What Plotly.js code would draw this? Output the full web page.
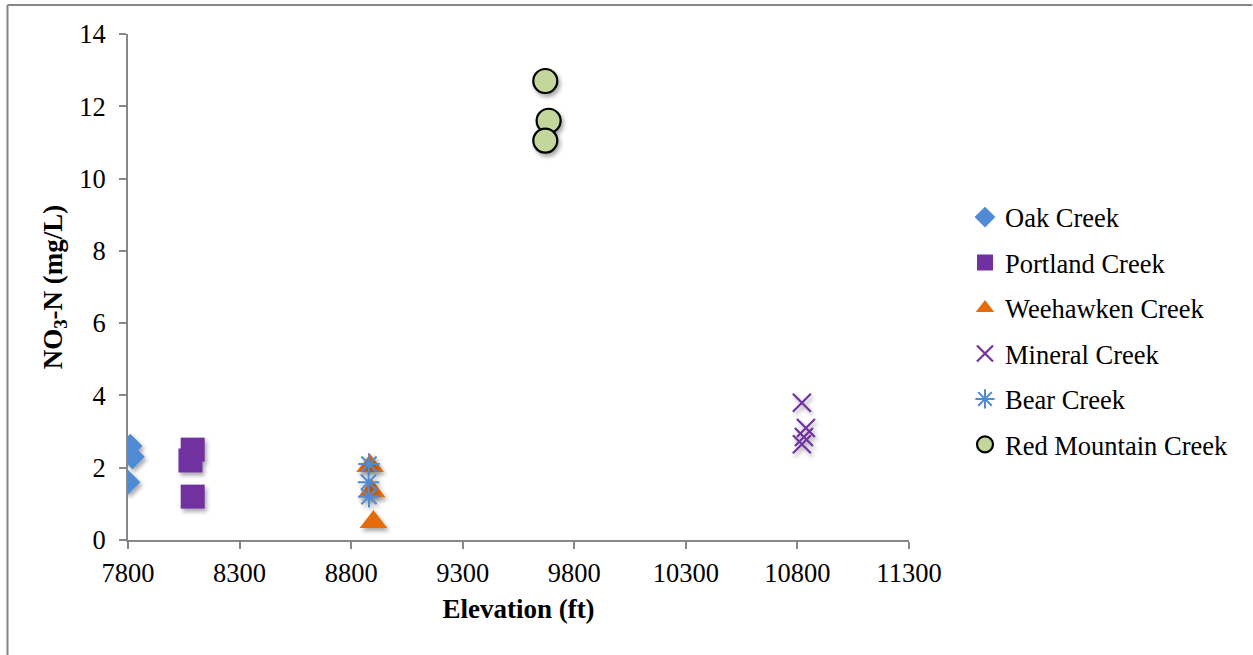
<!DOCTYPE html>
<html>
<head>
<meta charset="utf-8">
<script src="https://cdn.plot.ly/plotly-3.0.1.min.js"></script>
<style>
  html, body { margin: 0; padding: 0; background: #ffffff; }
  #chart { width: 1253px; height: 655px; }
</style>
</head>
<body>
<svg width="0" height="0" style="position:absolute">
  <defs>
    <filter id="mkshadow" x="-50%" y="-50%" width="200%" height="200%">
      <feGaussianBlur in="SourceAlpha" stdDeviation="2"/>
      <feOffset dx="2" dy="3" result="off"/>
      <feComponentTransfer><feFuncA type="linear" slope="0.35"/></feComponentTransfer>
      <feMerge><feMergeNode/><feMergeNode in="SourceGraphic"/></feMerge>
    </filter>
  </defs>
</svg>
<div id="chart"></div>
<script>
// Nitrate (NO3-N) by sampling elevation for each creek
const oakX = [7800, 7810, 7820];
const oakY = [1.6, 2.6, 2.3];

const portlandX = [8090, 8080, 8090];
const portlandY = [2.5, 2.2, 1.2];

const weehawkenX = [8885, 8892, 8900];
const weehawkenY = [2.05, 1.35, 0.5];

const mineralX = [10820, 10838, 10829, 10820];
const mineralY = [3.8, 3.1, 2.85, 2.65];

const bearX = [8880, 8878, 8880];
const bearY = [2.1, 1.6, 1.2];

const redMtnX = [9670, 9685, 9670];
const redMtnY = [12.7, 11.6, 11.05];

const xTicks = [7800, 8300, 8800, 9300, 9800, 10300, 10800, 11300];
const yTicks = [0, 2, 4, 6, 8, 10, 12, 14];

const FONT = 'Liberation Serif';

function series(name, xs, ys, marker) {
  return {
    type: 'scatter', mode: 'markers', name: name,
    x: xs, y: ys, legendgroup: name,
    marker: marker, hoverinfo: 'x+y+name'
  };
}

const traces = [
  series('Oak Creek', oakX, oakY,
    {symbol: 'diamond', size: 19, color: '#4F8AD4', line: {width: 0}}),
  series('Portland Creek', portlandX, portlandY,
    {symbol: 'square', size: 24, color: '#7030A0', line: {width: 0}}),
  series('Weehawken Creek', weehawkenX, weehawkenY,
    {symbol: 'triangle-up', size: 24, color: '#E46C0A', line: {width: 0}}),
  series('Mineral Creek', mineralX, mineralY,
    {symbol: 'x-thin-open', size: 18, color: '#7030A0', line: {width: 2.2, color: '#7030A0'}}),
  series('Bear Creek', bearX, bearY,
    {symbol: 'asterisk-open', size: 18, color: '#4F8AD4', line: {width: 2, color: '#4F8AD4'}}),
  series('Red Mountain Creek', redMtnX, redMtnY,
    {symbol: 'circle', size: 24, color: '#C3D69B', line: {width: 2.2, color: '#000000'}})
];

const layout = {
  width: 1253, height: 655,
  margin: {l: 128, r: 344, t: 34, b: 115, pad: 0},
  paper_bgcolor: '#ffffff', plot_bgcolor: '#ffffff',
  font: {family: FONT, size: 26, color: '#000000'},
  showlegend: true,
  legend: {
    x: 1.0717, xanchor: 'left', y: 0.685, yanchor: 'top',
    font: {family: FONT, size: 26.5, color: '#000000'},
    itemwidth: 30, tracegroupgap: 8,
    bgcolor: 'rgba(0,0,0,0)', borderwidth: 0
  },
  xaxis: {
    range: [7800, 11300], tickmode: 'array', tickvals: xTicks,
    ticktext: xTicks.map(String),
    showgrid: false, zeroline: false,
    showline: true, linecolor: '#878787', linewidth: 2,
    ticks: 'outside', ticklen: 7, tickwidth: 2, tickcolor: '#878787',
    ticklabelstandoff: 1,
    tickfont: {family: FONT, size: 26.5, color: '#000000'},
    title: {text: '<b>Elevation (ft)</b>', font: {family: FONT, size: 27, color: '#000000'}, standoff: 12}
  },
  yaxis: {
    range: [0, 14], tickmode: 'array', tickvals: yTicks,
    ticktext: yTicks.map(String),
    showgrid: false, zeroline: false,
    showline: true, linecolor: '#878787', linewidth: 2,
    ticks: 'outside', ticklen: 7, tickwidth: 2, tickcolor: '#878787',
    ticklabelstandoff: 8,
    tickfont: {family: FONT, size: 26.5, color: '#000000'},
    title: {text: '<b>NO<sub>3</sub>-N (mg/L)</b>', font: {family: FONT, size: 27, color: '#000000'}, standoff: 9}
  },
  shapes: [
    // chart frame (top and left edges)
    {type: 'line', xref: 'paper', yref: 'paper', x0: -0.1543, x1: 1.4395, y0: 1.0573, y1: 1.0573,
     line: {color: '#868686', width: 2}},
    {type: 'line', xref: 'paper', yref: 'paper', x0: -0.1543, x1: -0.1543, y0: 1.0573, y1: -0.25,
     line: {color: '#868686', width: 2}}
  ]
};

Plotly.newPlot('chart', traces, layout, {displayModeBar: false, staticPlot: true}).then(function (gd) {
  // soft drop shadow under the plotted markers
  gd.querySelectorAll('.scatterlayer .trace .points').forEach(function (g) {
    g.setAttribute('filter', 'url(#mkshadow)');
  });
});
</script>
</body>
</html>
